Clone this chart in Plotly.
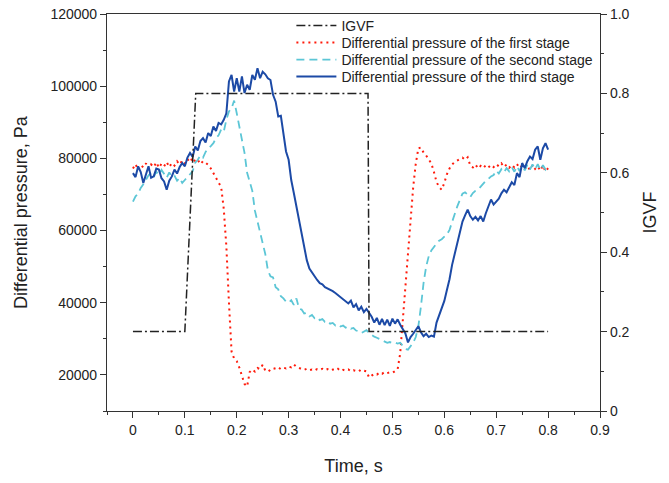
import numpy as np
import plotly.graph_objects as go

# time base (s), 0.005 s step from 0 to 0.8
time_s = [round(0.005 * i, 3) for i in range(161)]

igvf_time = [0.0, 0.1, 0.121, 0.453, 0.455, 0.8]
igvf_vals = [0.2, 0.2, 0.8, 0.8, 0.2, 0.2]

dp_first = [
    77200, 78400, 76800, 78100, 77500, 78600, 77000, 78300, 77600, 78900,
    77400, 78500, 77800, 79000, 77600, 78700, 78000, 79200, 78300, 79400,
    78600, 79800, 78900, 80200, 79100, 79600, 78400, 79200, 78800, 78200,
    77200, 76000, 74800, 73500, 72000, 66000, 55600, 40000, 26500, 24500,
    23800, 22000, 19500, 17500, 16800, 20800, 21500, 20900, 21900, 21600,
    22800, 21200, 20900, 21500, 21900, 21700, 22100, 21600, 22000, 21800,
    22300, 22100, 22900, 22300, 21900, 21600, 21400, 21700, 21300, 21500,
    21200, 21600, 21400, 21700, 21300, 21600, 21200, 21500, 21300, 21700,
    21100, 21400, 21200, 21500, 21000, 21300, 21100, 21400, 20900, 21200,
    21000, 19300, 19800, 20300, 20100, 20600, 20300, 20800, 20500, 20700,
    20600, 21000, 21500, 26000, 35000, 45600, 55000, 64000, 72000, 78500,
    82800, 83000, 81600, 80800, 79500, 78600, 76200, 73500, 72000, 71300,
    73200, 75600, 77200, 78300, 79000, 79400, 79800, 80200, 79600, 80300,
    78000, 77500, 78300, 77200, 77900, 77300, 78100, 77500, 78200, 77600,
    78400, 77800, 78600, 77600, 78300, 77400, 78200, 77500, 78400, 77300,
    78000, 77200, 77900, 76800, 78200, 77100, 77800, 76600, 78000, 76400,
    77300,
]

dp_second = [
    68000, 69500, 70200, 71800, 72800, 74200, 75300, 75900, 74800, 76300,
    75400, 76800, 75800, 74600, 76100, 74900, 75200, 73800, 74600, 73200,
    74000, 74800, 75600, 76400, 78800, 79600, 80800, 80200, 81800, 82800,
    83400, 84200, 85600, 86400, 88000, 87400, 90700, 93000, 93900, 96000,
    92500, 89000, 85600, 81500, 76000, 73500, 71000, 65500, 62500, 60200,
    57000, 53500, 49000, 47300, 47000, 44300, 43700, 41800, 41200, 40300,
    40000, 40700, 39400, 41200, 38400, 38100, 37000, 37200, 36200, 36600,
    35700, 36000, 35200, 35500, 34700, 34900, 34200, 34400, 33700, 34000,
    33400, 33700, 33100, 33400, 32800, 33000, 32300, 32100, 31600, 32100,
    32400, 31600, 31000, 30600, 30300, 30000, 29600, 29200, 28900, 29100,
    28800, 29000, 28700, 28900, 27900, 27200, 27000, 28000, 28900, 30500,
    33500, 39000, 45500, 50000, 52900, 54500, 55600, 56400, 57200, 57600,
    58300, 58900, 60200, 62400, 64800, 66700, 68500, 70200, 70600, 69800,
    69300, 70400, 71000, 71300, 72200, 73100, 73800, 74300, 75000, 75400,
    76600, 75800, 77000, 76100, 77300, 76400, 77600, 76300, 77800, 76500,
    78000, 76700, 78200, 76900, 78300, 77000, 78400, 76800, 78100, 76900,
    78000,
]

dp_third = [
    75900, 74800, 77800, 76200, 73200, 75500, 77800, 74600, 75000, 77200,
    76900, 74500, 73600, 71300, 73800, 75000, 76900, 75800, 77600, 78700,
    77800, 80200, 81500, 80400, 83300, 82200, 84800, 85600, 84400, 87000,
    86200, 88800, 87600, 89800, 89400, 90700, 92500, 101300, 103100, 98500,
    102200, 98500, 102700, 98100, 100400, 99000, 103100, 101800, 105000, 102200,
    104000, 103300, 102200, 101700, 97600, 95700, 91600, 91800, 86500, 81900,
    79600, 74000, 70400, 66700, 62500, 59000, 55800, 51800, 49500, 48300,
    47200, 46300, 45400, 45100, 44300, 44000, 43600, 43200, 42700, 42100,
    41600, 41000, 40500, 39800, 40600, 38700, 39600, 37900, 38900, 37400,
    38300, 37200, 36100, 34500, 35800, 33900, 35500, 33800, 35300, 33600,
    35600, 34200, 35400, 33900, 32800, 31500, 29000, 30500, 31400, 32600,
    33500, 31800, 30700, 31400, 30500, 30900, 30600, 34500, 36500, 38500,
    40500, 43500, 46500, 50500, 53500, 56500, 60300, 62500, 64200, 65800,
    64000, 63000, 63800, 62800, 64000, 62500, 64800, 66900, 68600, 67200,
    67900, 68800, 70300, 71300, 70600, 72200, 73400, 72600, 75900, 74800,
    78700, 77300, 79200, 80500, 79800, 82400, 83300, 79600, 82800, 84200,
    82400,
]

x_ticks = [0, 0.1, 0.2, 0.3, 0.4, 0.5, 0.6, 0.7, 0.8, 0.9]
x_tick_text = ["0", "0.1", "0.2", "0.3", "0.4", "0.5", "0.6", "0.7", "0.8", "0.9"]
y_ticks = [20000, 40000, 60000, 80000, 100000, 120000]
y_tick_text = ["20000", "40000", "60000", "80000", "100000", "120000"]
y2_ticks = [0, 0.2, 0.4, 0.6, 0.8, 1.0]
y2_tick_text = ["0", "0.2", "0.4", "0.6", "0.8", "1.0"]

legend_rows_px = [26, 43, 60, 77]  # vertical centres of legend entries (px from top)

assert len(dp_first) == len(time_s) == len(dp_second) == len(dp_third)

FONT = "Liberation Sans, Arial, sans-serif"
AX = "#333333"
W, H = 669, 483
ML, MR, MT, MB = 107, 69, 14, 72
PH = H - MT - MB

fig = go.Figure()
fig.add_trace(go.Scatter(
    x=igvf_time, y=igvf_vals, name="IGVF", yaxis="y2", mode="lines",
    line=dict(color="#222222", width=1.5, dash="9px,3px,2px,3px"),
    legend="legend",
))
fig.add_trace(go.Scatter(
    x=time_s, y=dp_first, name="Differential pressure of the first stage",
    mode="lines", line=dict(color="#ff1a0a", width=2, dash="2px,4px"),
    legend="legend2",
))
fig.add_trace(go.Scatter(
    x=time_s, y=dp_second, name="Differential pressure of the second stage",
    mode="lines", line=dict(color="#5cc6d6", width=1.8, dash="8px,5px"),
    legend="legend3",
))
fig.add_trace(go.Scatter(
    x=time_s, y=dp_third, name="Differential pressure of the third stage",
    mode="lines", line=dict(color="#1c4aa6", width=2),
    legend="legend4",
))

axis_common = dict(
    showline=True, linecolor=AX, linewidth=1.2, ticks="outside",
    ticklen=6, tickwidth=1, tickcolor=AX, showgrid=False, zeroline=False,
    tickfont=dict(family=FONT, size=14, color="#222222"), automargin=False,
)


def legend_at(ypx):
    return dict(
        x=0.374, y=(H - MB - ypx) / PH, xanchor="left", yanchor="middle",
        bgcolor="rgba(0,0,0,0)", borderwidth=0,
        font=dict(family=FONT, size=14, color="#222222"),
        tracegroupgap=0, itemwidth=40,
    )


fig.update_layout(
    width=W, height=H,
    margin=dict(l=ML, r=MR, t=MT, b=MB, pad=0, autoexpand=False),
    paper_bgcolor="white", plot_bgcolor="white",
    font=dict(family=FONT, color="#222222"),
    showlegend=True,
    legend=legend_at(legend_rows_px[0]),
    legend2=legend_at(legend_rows_px[1]),
    legend3=legend_at(legend_rows_px[2]),
    legend4=legend_at(legend_rows_px[3]),
    xaxis=dict(
        **axis_common, range=[-0.05, 0.9], tickvals=x_ticks, ticktext=x_tick_text,
        mirror=True,
        minor=dict(dtick=0.05, tick0=0, ticks="outside", ticklen=3, tickcolor=AX),
        title=dict(text="Time, s", font=dict(family=FONT, size=18), standoff=22),
    ),
    yaxis=dict(
        **axis_common, range=[10000, 120000], tickvals=y_ticks, ticktext=y_tick_text,
        minor=dict(dtick=10000, tick0=0, ticks="outside", ticklen=3, tickcolor=AX),
        title=dict(text="Differential pressure, Pa", font=dict(family=FONT, size=18), standoff=18),
    ),
    yaxis2=dict(
        **axis_common, range=[0, 1], overlaying="y", side="right",
        tickvals=y2_ticks, ticktext=y2_tick_text,
        minor=dict(dtick=0.1, tick0=0, ticks="outside", ticklen=3, tickcolor=AX),
        title=dict(text="IGVF", font=dict(family=FONT, size=18), standoff=14),
    ),
)

fig.write_html("out.html")
